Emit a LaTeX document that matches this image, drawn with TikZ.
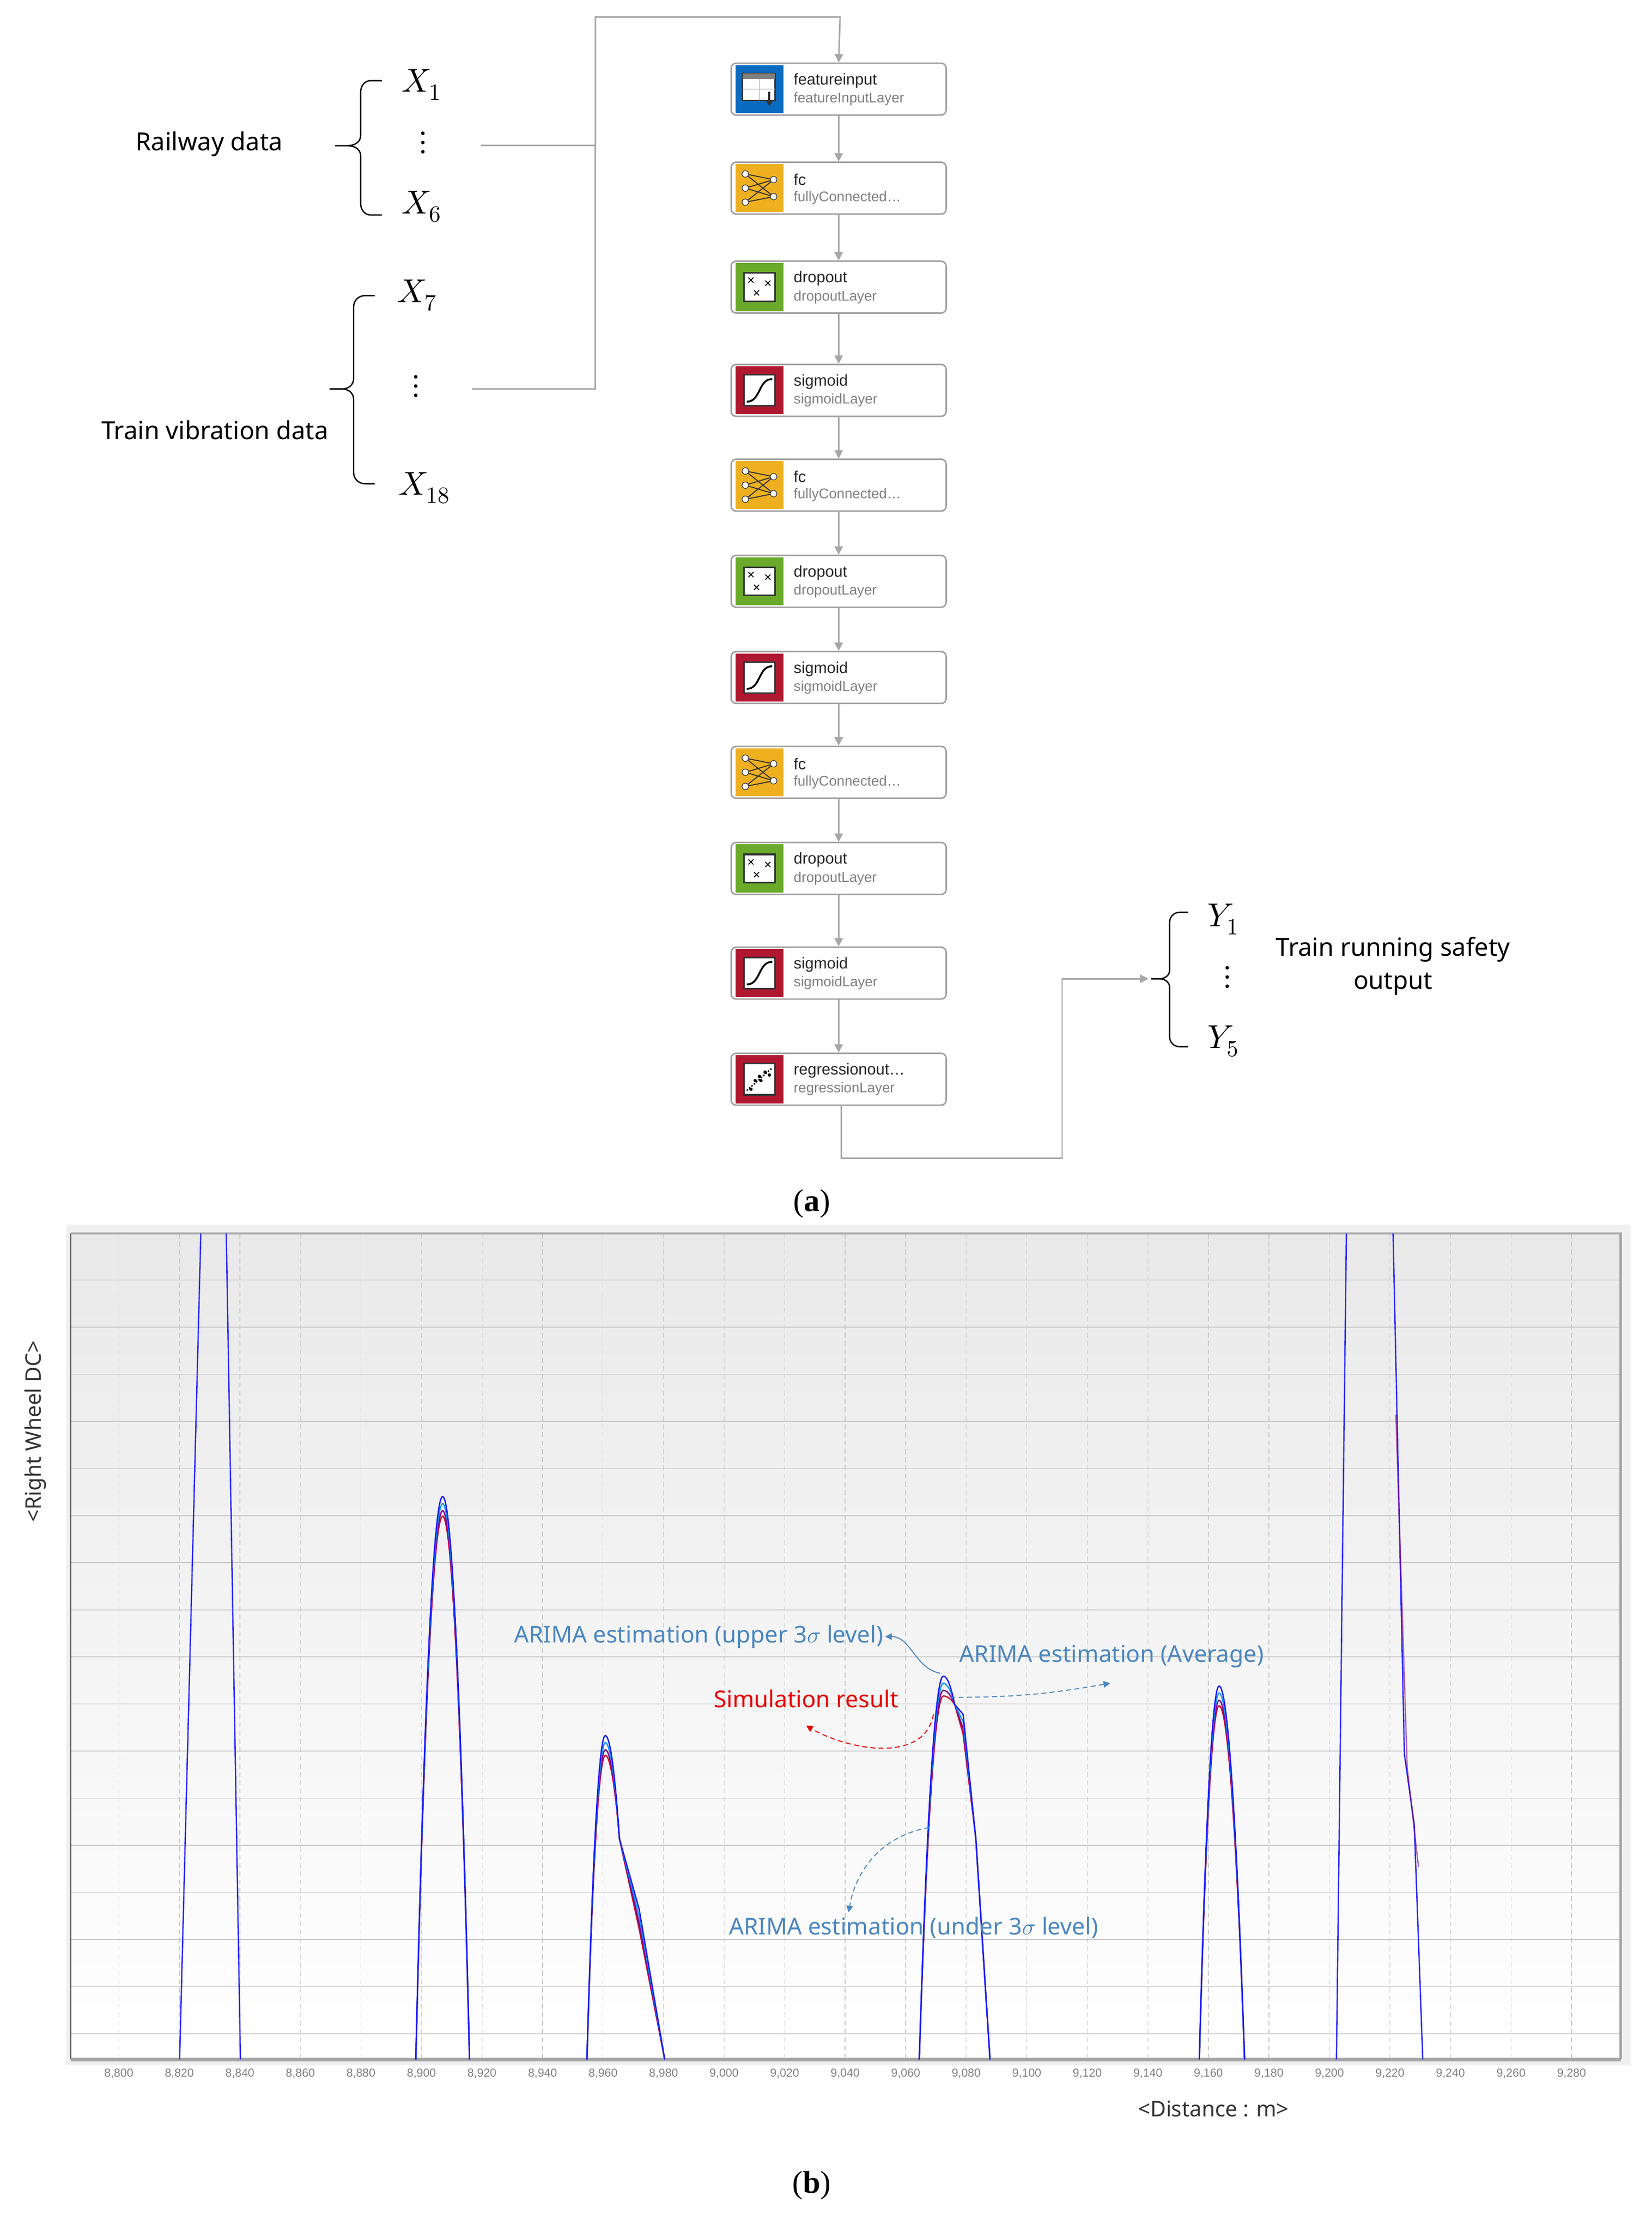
\documentclass[tikz,border=0pt]{standalone}
\usepackage{fontspec}
\setmainfont{Noto Sans}
\newfontfamily\lib{Liberation Sans}
\newfontfamily\tnr{Liberation Serif}
\usepackage{unicode-math}
\usetikzlibrary{arrows.meta,calc}
\definecolor{inblue}{HTML}{0A6CC0}
\definecolor{fcyel}{HTML}{EFB020}
\definecolor{drgreen}{HTML}{6AAA2A}
\definecolor{sigred}{HTML}{B01830}
\definecolor{annblue}{HTML}{4A86C0}
\definecolor{grid}{HTML}{C8C8C8}
\tikzset{
 x=0.03cm,y=-0.03cm,
 layer/.style={draw=gray!75,line width=0.9pt,rounded corners=3pt,fill=white,minimum width=4.56cm,minimum height=1.1cm},
 ttl/.style={anchor=west,font=\lib\fontsize{9.5}{10}\selectfont,text=black!85,inner sep=0},
 sub/.style={anchor=west,font=\lib\fontsize{8.5}{9}\selectfont,text=gray,inner sep=0},
 con/.style={draw=gray!70,line width=0.9pt},
 arr/.style={con,-{Triangle[width=5pt,length=5pt]}},
 lbl/.style={font=\fontsize{15}{20}\selectfont,align=center},
 xv/.style={font=\fontsize{20}{22}\selectfont},
 br/.style={line width=0.8pt},
 ann/.style={font=\fontsize{14}{16}\selectfont,text=annblue,inner sep=1pt},
 tick/.style={font=\lib\fontsize{7}{8}\selectfont,text=gray},
 xm/.style={font=\bfseries\fontsize{8}{8}\selectfont,inner sep=0},
 pics/inicon/.style={code={\fill[inblue] (-17,-17) rectangle (17,17);
   \fill[white,draw=black!80,line width=0.8pt] (-12,-11) rectangle (11,8);
   \fill[gray] (-12,-11) rectangle (11,-7);
   \draw[gray!40] (-12,0)--(11,0) (0,-7)--(0,8);
   \draw[black!80,line width=1.2pt,-{Triangle[width=4pt,length=3pt]}] (7,2)--(7,12);}},
 pics/fcicon/.style={code={\fill[fcyel] (-17,-17) rectangle (17,17);
   \foreach \a in {-10,0,10}{\foreach \b in {-6,6}{\draw[black!80,line width=0.6pt] (-10,\a)--(10,\b);}}
   \foreach \a in {-10,0,10}{\filldraw[fill=white,draw=black!80] (-10,\a) circle (2.3);}
   \foreach \b in {-6,6}{\filldraw[fill=white,draw=black!80] (10,\b) circle (2.3);}}},
 pics/dricon/.style={code={\fill[drgreen] (-17,-17) rectangle (17,17);
   \fill[white,draw=black!80,line width=1pt] (-11,-10) rectangle (11,10);
   \node[xm] at (-6,-4) {×};
   \node[xm] at (6,-2) {×};
   \node[xm] at (-2,5) {×};}},
 pics/sgicon/.style={code={\fill[sigred] (-17,-17) rectangle (17,17);
   \fill[white,draw=black!80,line width=1pt] (-11,-11) rectangle (11,11);
   \draw[black,line width=1.1pt] (-9,8) .. controls (1,8) and (-1,-8) .. (9,-8);}},
 pics/rgicon/.style={code={\fill[sigred] (-17,-17) rectangle (17,17);
   \fill[white,draw=black!80,line width=1pt] (-11,-11) rectangle (11,11);
   \draw[black,densely dotted,line width=0.9pt] (-9,8)--(9,-8);
   \foreach \p in {(-6,7),(-3,1),(1,1),(4,-5),(7,-3),(0,-2)}{\fill[black] \p circle (1.2);}}},
}
\begin{document}
\begin{tikzpicture}
\useasboundingbox (0,0) rectangle (1168,1578);
% ---------- layers
\foreach \n/\y/\ic/\t/\s in {1/63/inicon/featureinput/featureInputLayer,
 2/133/fcicon/fc/fullyConnected\dots,3/203/dricon/dropout/dropoutLayer,
 4/276/sgicon/sigmoid/sigmoidLayer,5/343/fcicon/fc/fullyConnected\dots,
 6/411/dricon/dropout/dropoutLayer,7/479/sgicon/sigmoid/sigmoidLayer,
 8/546/fcicon/fc/fullyConnected\dots,9/614/dricon/dropout/dropoutLayer,
 10/688/sgicon/sigmoid/sigmoidLayer,11/763/rgicon/regressionout\dots/regressionLayer}{
 \node[layer] (b\n) at (593,\y) {};
 \pic at (537,\y) {\ic};
 \node[ttl] (t\n) at (561,\y-6) {\t};
 \node[sub] (s\n) at (561,\y+7) {\s};
}
\foreach \a/\b in {1/2,2/3,3/4,4/5,5/6,6/7,7/8,8/9,9/10,10/11}{\draw[arr] (b\a.south) -- (b\b.north);}
% ---------- inputs
\node[lbl] (rd) at (148,102) {Railway data};
\node[lbl] (tv) at (152,304) {Train vibration data};
\node[xv] (x1) at (298,60) {$X_1$};
\node[xv] (xd1) at (299,101) {$\vdots$};
\node[xv] (x6) at (298,146) {$X_6$};
\node[xv] (x7) at (295,209) {$X_7$};
\node[xv] (xd2) at (294,273) {$\vdots$};
\node[xv] (x18) at (300,345) {$X_{18}$};
\draw[br] (270,57) -- (262,57) to[out=180,in=90] (255,65) -- (255,96) to[out=-90,in=0] (246,103) -- (237,103);
\draw[br] (246,103) to[out=0,in=90] (255,110) -- (255,144) to[out=-90,in=180] (262,152) -- (270,152);
\draw[br] (265,209) -- (258,209) to[out=180,in=90] (250,217) -- (250,268) to[out=-90,in=0] (242,275) -- (233,275);
\draw[br] (242,275) to[out=0,in=90] (250,282) -- (250,334) to[out=-90,in=180] (258,342) -- (265,342);
\coordinate (c1) at (340,103);
\coordinate (c2) at (334,275);
\coordinate (cj) at (421,103);
\draw[con] (c1) -- (cj);
\draw[con] (c2) -| (cj);
\draw[arr] (cj) |- (594,12) -- (b1.north);
% ---------- outputs
\node[xv] (y1) at (865,650) {$Y_1$};
\node[xv] (yd) at (868,691) {$\vdots$};
\node[xv] (y5) at (865,736) {$Y_5$};
\node[lbl] (ro) at (985,683) {Train running safety\\output};
\draw[br] (840,645) -- (834,645) to[out=180,in=90] (827,652) -- (827,686) to[out=-90,in=0] (820,692) -- (814,692);
\draw[br] (820,692) to[out=0,in=90] (827,698) -- (827,733) to[out=-90,in=180] (834,740) -- (840,740);
\coordinate (ob) at (595,819);
\coordinate (oc) at (751,819);
\draw[arr] (b11.south -| ob) -- (ob) -- (oc) |- (812,692);
\node[font=\tnr\fontsize{19}{20}\selectfont] (la) at (574,851) {(\textbf{a})};
\node[font=\tnr\fontsize{19}{20}\selectfont] (lb) at (574,1545) {(\textbf{b})};
% ---------- plot
\fill[gray!12] (47,866) rectangle (1153,1460);
\shade[top color=gray!17,bottom color=white] (50,872) rectangle (1146,1456);
\foreach \k in {0,...,16}{\draw[grid,line width=0.5pt] (50,905+\k*33.3) -- (1146,905+\k*33.3);}
\foreach \i in {0,...,24}{\draw[grid,line width=0.4pt,densely dashed] (84+\i*42.8,872) -- (84+\i*42.8,1456);}
\draw[gray!70,line width=1.5pt] (50,872) -- (1146,872) -- (1146,1456);
\draw[black!70,line width=0.8pt] (50,872) -- (50,1456);
\draw[gray!70,line width=2pt] (50,1456) -- (1146,1456);
\foreach \i in {0,...,24}{
 \pgfmathtruncatemacro{\d}{8800+20*\i}
 \pgfmathtruncatemacro{\th}{\d/1000}
 \pgfmathtruncatemacro{\rest}{\d-1000*\th}
 \node[tick] at (84+\i*42.8,1466) {\th,\ifnum\rest<100 0\fi\ifnum\rest<10 0\fi\rest};}
\begin{scope}[line width=0.8pt]
 \draw[blue!85] (127,1456) -- (142,872) (160,872) -- (170,1456);
 \draw[blue!85] (945,1456) -- (952,872) (985,872) -- (993,1240) -- (1000,1290) -- (1006,1456);
 \draw[red!50!blue,opacity=.6] (987,1000) -- (995,1250) -- (1003,1320);
 \foreach \c/\o in {red!80!blue/14,violet/10,blue!40!cyan/5,blue!90/0}{
  \draw[\c] (294,1456) parabola bend (313,1058+\o) (332,1456);
  \draw[\c] (415,1456) parabola bend (428,1227+\o) (438,1300) -- (452,1350+\o) -- (470,1456);
  \draw[\c] (650,1456) parabola bend (667,1185+\o) (675,1205) -- (681,1212+\o) -- (690,1300) -- (700,1456);
  \draw[\c] (848,1456) parabola bend (862,1192+\o) (880,1456);
 }
\end{scope}
% annotations
\node[ann] (au) at (494,1157) {ARIMA estimation (upper 3$\sigma$ level)};
\node[ann] (aa) at (786,1171) {ARIMA estimation (Average)};
\node[ann,text=red!90!black] (sr) at (570,1201) {Simulation result};
\node[ann] (ad) at (646,1363) {ARIMA estimation (under 3$\sigma$ level)};
\coordinate (p1) at (665,1183);
\coordinate (p2) at (672,1200);
\coordinate (p3) at (660,1212);
\coordinate (p4) at (657,1292);
\draw[annblue,line width=0.6pt,-{Triangle[width=4pt,length=4pt]}] (p1) to[out=170,in=0] (au.east);
\draw[annblue,line width=0.6pt,densely dashed,-{Triangle[width=4pt,length=4pt]}] (p2) to[out=0,in=190] (785,1190);
\draw[red!90!black,line width=0.6pt,densely dashed,-{Triangle[width=4pt,length=4pt]}] (p3) to[out=-100,in=-30] (570,1220);
\draw[annblue,line width=0.6pt,densely dashed,-{Triangle[width=4pt,length=4pt]}] (p4) to[out=190,in=80] (600,1352);
\node[rotate=90,font=\fontsize{13}{14}\selectfont,text=black!80] (yl) at (25,1012) {<Right Wheel DC>};
\node[font=\fontsize{13}{14}\selectfont,text=black!80] (xl) at (858,1491) {<Distance : m>};
\end{tikzpicture}
\end{document}
